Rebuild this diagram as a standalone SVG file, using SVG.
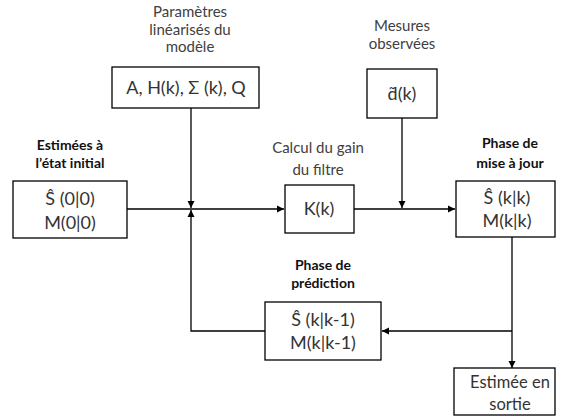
<svg xmlns="http://www.w3.org/2000/svg" width="561" height="417" viewBox="0 0 561 417">
<defs>
<marker id="ah" markerWidth="8" markerHeight="8" refX="7" refY="4" orient="auto" markerUnits="userSpaceOnUse">
<path d="M0,0.5 L7,4 L0,7.5 Z" fill="#000"/>
</marker>
<style>
.box{fill:#fff;stroke:#000;stroke-width:1.3}
.ln{fill:none;stroke:#000;stroke-width:1.3}
.lbl{font-family:Lato,"Liberation Sans",sans-serif;font-size:15px;fill:#404040;text-anchor:middle}
.b{font-weight:bold;fill:#111;font-size:14px}
.main{font-family:Lato,"Liberation Sans",sans-serif;font-size:18px;fill:#333;text-anchor:middle}
.out{font-size:16.5px}
</style>
</defs>
<rect width="561" height="417" fill="#fff"/>
<g id="connectors">
<path class="ln" d="M191,108 V208" marker-end="url(#ah)"/>
<path class="ln" d="M127,209 H284" marker-end="url(#ah)"/>
<path class="ln" d="M354,209 H455" marker-end="url(#ah)"/>
<path class="ln" d="M402,118 V208" marker-end="url(#ah)"/>
<path class="ln" d="M512,237 V368" marker-end="url(#ah)"/>
<path class="ln" d="M512,331 H382" marker-end="url(#ah)"/>
<path class="ln" d="M265,331 H191 V210" marker-end="url(#ah)"/>
</g>
<g id="params">
<text class="lbl" x="190" y="17">Paramètres</text>
<text class="lbl" x="190" y="35">linéarisés du</text>
<text class="lbl" x="190" y="52">modèle</text>
<rect class="box" x="112" y="67" width="147" height="41"/>
<text class="main" x="186" y="94">A, H(k), Σ (k), Q</text>
</g>
<g id="mesures">
<text class="lbl" x="402" y="31">Mesures</text>
<text class="lbl" x="402" y="49">observées</text>
<rect class="box" x="367" y="69" width="70" height="49"/>
<text class="main" x="402" y="100">d̃(k)</text>
</g>
<g id="init">
<text class="lbl b" x="70" y="150">Estimées à</text>
<text class="lbl b" x="70" y="168">l’état initial</text>
<rect class="box" x="13" y="181" width="114" height="57"/>
<text class="main" x="70" y="205">Ŝ (0|0)</text>
<text class="main" x="70" y="229">M(0|0)</text>
</g>
<g id="gain">
<text class="lbl" x="318" y="153">Calcul du gain</text>
<text class="lbl" x="318" y="175">du filtre</text>
<rect class="box" x="285" y="185" width="69" height="48"/>
<text class="main" x="319" y="215">K(k)</text>
</g>
<g id="update">
<text class="lbl b" x="510" y="148">Phase de</text>
<text class="lbl b" x="510" y="168">mise à jour</text>
<rect class="box" x="456" y="181" width="99" height="56"/>
<text class="main" x="507" y="204">Ŝ (k|k)</text>
<text class="main" x="507" y="227">M(k|k)</text>
</g>
<g id="prediction">
<text class="lbl b" x="323" y="270">Phase de</text>
<text class="lbl b" x="323" y="288">prédiction</text>
<rect class="box" x="265" y="302" width="116" height="58"/>
<text class="main" x="323" y="326">Ŝ (k|k-1)</text>
<text class="main" x="323" y="349">M(k|k-1)</text>
</g>
<g id="output">
<rect class="box" x="454" y="368" width="101" height="47"/>
<text class="main out" x="510" y="388">Estimée en</text>
<text class="main out" x="510" y="410">sortie</text>
</g>
</svg>
